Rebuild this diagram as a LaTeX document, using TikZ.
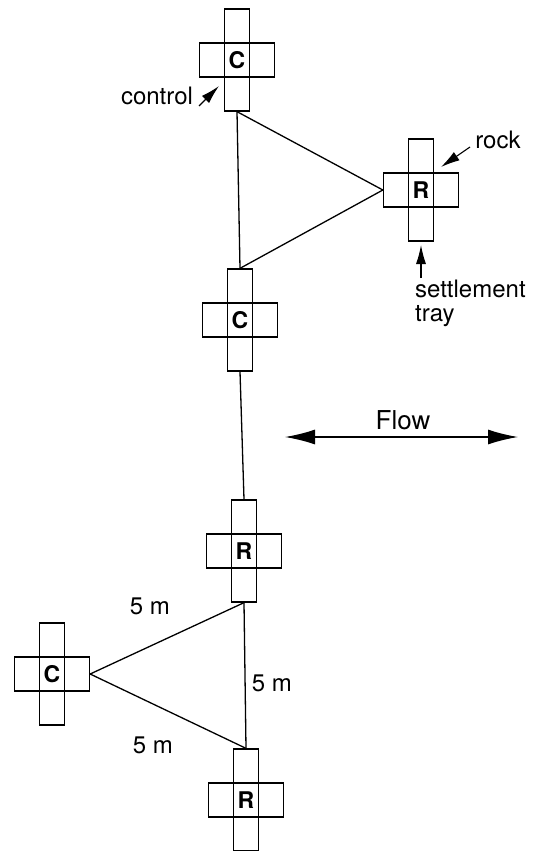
\documentclass[tikz,border=0pt]{standalone}
\usepackage{fontspec}
\setmainfont{TeX Gyre Heros}
\usetikzlibrary{arrows.meta}
\tikzset{
  cell/.style={draw, line width=1.3pt, minimum width=25pt, minimum height=34pt, inner sep=0pt, font=\fontsize{23}{24}\selectfont\bfseries},
  lbl/.style={font=\fontsize{24}{25}\selectfont, inner sep=0pt},
  conn/.style={line width=1.3pt},
  ptr/.style={line width=1.1pt, -{Latex[length=19pt,width=10pt]}},
  flowarrow/.style={line width=1.4pt, {Latex[length=30pt,width=15pt]}-{Latex[length=30pt,width=15pt]}},
  crosspic/.pic={
    \node[cell] (-c) at (0,0) {#1};
    \node[cell] (-n) at (0,-34) {};
    \node[cell] (-s) at (0,34) {};
    \node[cell] (-w) at (-25,0) {};
    \node[cell] (-e) at (25,0) {};
  }
}
\begin{document}
\begin{tikzpicture}[x=1pt,y=-1pt]
\useasboundingbox (0,0) rectangle (534,851);
% crosses
\pic (tc) at (237,60) {crosspic=C};
\pic (ra) at (421,190) {crosspic=R};
\pic (mc) at (240,320) {crosspic=C};
\pic (rb) at (244,551) {crosspic=R};
\pic (lc) at (52,674) {crosspic=C};
\pic (rc) at (246,800) {crosspic=R};
% connectors
\draw[conn] (tc-s.south) -- (mc-n.north);
\draw[conn] (tc-s.south) -- (ra-w.west);
\draw[conn] (mc-n.north) -- (ra-w.west);
\draw[conn] (mc-s.south) -- (rb-n.north);
\draw[conn] (rb-s.south) -- (rc-n.north);
\draw[conn] (rb-s.south) -- (lc-e.east);
\draw[conn] (lc-e.east) -- (rc-n.north);
% labels
\node[lbl] (ctl) at (157,96) {control};
\coordinate (ctltail) at (199,106);
\coordinate (ctltip) at (219,86);
\draw[ptr] (ctltail) -- (ctltip);
\node[lbl] (rock) at (498,140) {rock};
\coordinate (rocktail) at (470,147);
\coordinate (rocktip) at (441,167);
\draw[ptr] (rocktail) -- (rocktip);
\node[lbl, align=left, anchor=north west, font=\fontsize{24}{24}\selectfont] (tray) at (415,280) {settlement\\tray};
\coordinate (traytail) at (421,278);
\coordinate (traytip) at (421,245);
\draw[ptr] (traytail) -- (traytip);
\node[lbl, font=\fontsize{26}{27}\selectfont] (flow) at (403,420) {Flow};
\coordinate (flowl) at (285,437);
\coordinate (flowr) at (518,437);
\draw[flowarrow] (flowl) -- (flowr);
\node[lbl] (d1) at (150,606) {5 m};
\node[lbl] (d2) at (272,683) {5 m};
\node[lbl] (d3) at (153,745) {5 m};
\end{tikzpicture}
\end{document}
